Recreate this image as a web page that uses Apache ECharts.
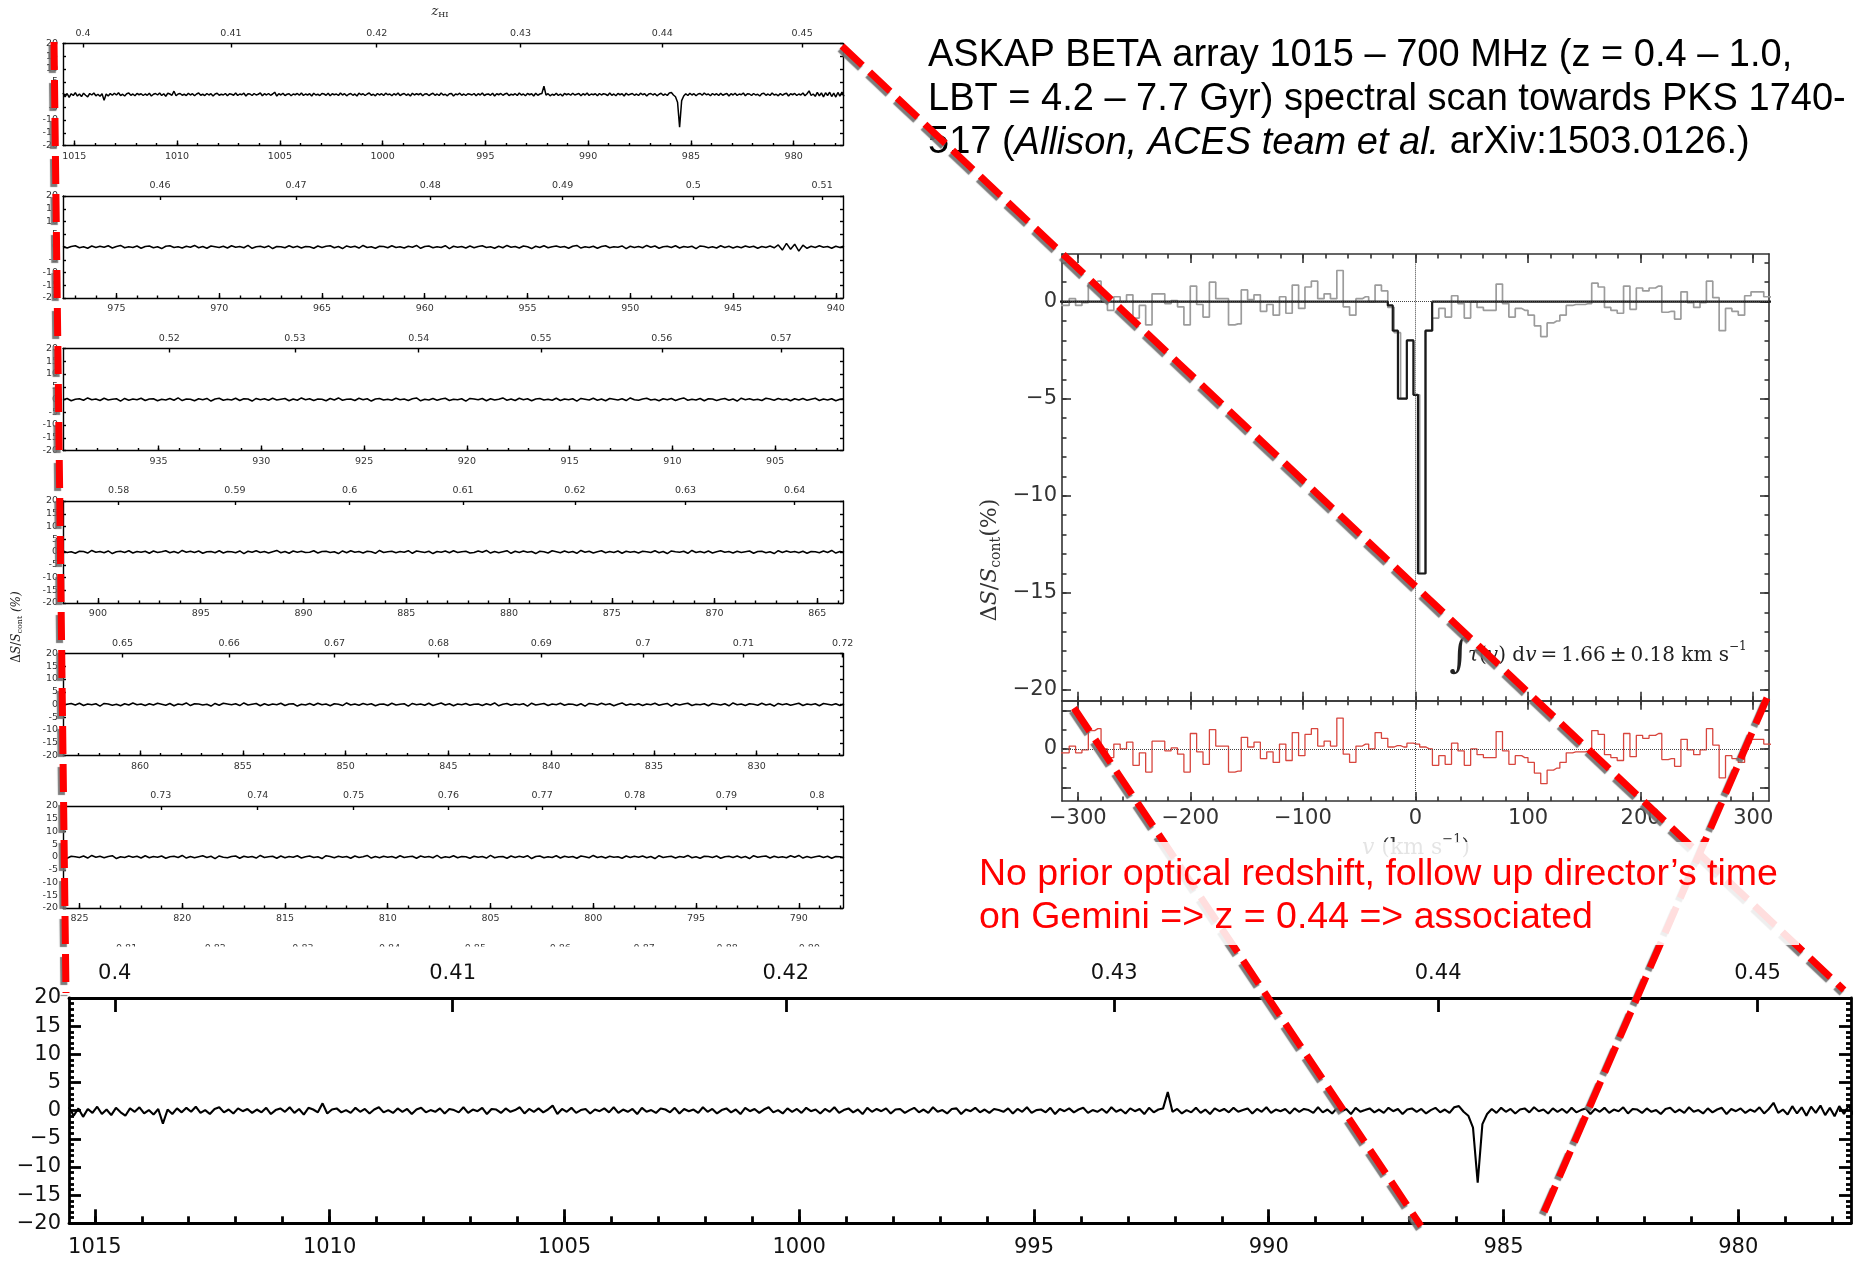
<!DOCTYPE html>
<html><head><meta charset="utf-8">
<script src="https://cdn.jsdelivr.net/npm/echarts@6/dist/echarts.min.js"></script>
<style>html,body{margin:0;padding:0;background:#fff}#c{width:1865px;height:1264px}</style>
</head><body><div id="c"></div>
<script>
// ---------------- DATA ----------------
const REST_FREQ_MHZ = 1420.405752;
const SCAN_START_MHZ = 1015.55;
const PANEL_SPAN_MHZ = 37.95;

// panel 1 / zoomed bottom panel spectrum (dS/S %, 0.1 MHz steps from 1015.55 MHz)
const spec1StepMHz = 0.1;
const spec1 = [
0.6,-0.9,0.4,-1.1,0.3,-0.4,0.7,-0.6,0.2,-0.8,0.5,-0.3,-0.9,0.4,-0.2,0.6,-0.5,0.1,-0.7,0.3,
-2.3,0.2,-0.6,0.4,-0.3,0.5,-0.2,0.7,-0.4,0.1,-0.6,0.3,0.6,-0.3,0.2,-0.5,0.4,-0.1,0.3,-0.4,
0.2,-0.3,0.5,-0.6,0.1,0.4,-0.2,0.6,-0.4,0.3,-0.7,0.5,0.2,-0.3,1.3,-0.5,0.2,0.4,-0.3,0.1,
-0.4,0.5,-0.2,0.3,-0.5,0.2,0.6,-0.3,0.1,-0.4,0.4,-0.2,0.3,-0.6,0.2,0.5,-0.3,0.1,-0.2,0.4,
-0.5,0.3,0.1,-0.3,0.6,-0.4,0.2,-0.1,0.5,-0.6,0.3,0.2,-0.4,0.4,-0.2,0.1,0.6,-0.5,0.3,-0.2,
0.4,-0.3,0.2,0.9,-0.6,0.3,-0.2,0.5,-0.4,0.1,0.3,-0.5,0.2,-0.1,0.4,-0.3,0.6,-0.4,0.2,-0.2,
0.3,-0.6,0.5,-0.2,0.1,-0.4,0.4,0.2,-0.3,0.5,-0.5,0.3,-0.1,0.2,-0.4,0.6,-0.2,0.3,-0.5,0.1,
0.4,-0.3,0.2,-0.6,0.5,-0.1,0.3,-0.4,0.2,0.6,-0.3,0.1,-0.5,0.4,-0.2,0.3,-0.4,0.5,-0.1,0.2,
-0.5,0.3,-0.2,0.6,-0.4,0.1,0.4,-0.3,0.2,-0.6,0.5,-0.2,0.3,-0.1,0.4,-0.5,0.2,0.3,-0.4,0.1,
0.5,-0.3,0.2,-0.4,0.6,-0.2,0.1,-0.5,0.3,0.4,-0.6,0.2,-0.1,0.5,-0.3,0.2,-0.4,0.3,0.1,-0.2,
0.4,-0.5,0.3,-0.2,0.6,-0.4,0.1,0.2,-0.3,0.5,-0.6,0.3,-0.1,0.4,-0.3,0.2,0.5,-0.4,0.1,-0.2,
0.3,-0.4,0.6,-0.2,0.2,-0.5,0.4,-0.1,0.3,-0.6,0.5,-0.3,0.2,0.4,3.3,-0.2,0.3,-0.5,0.1,-0.3,
0.5,-0.4,0.2,-0.6,0.4,-0.1,0.3,-0.3,0.5,-0.2,0.1,0.4,-0.5,0.3,-0.2,0.6,-0.4,0.2,-0.1,0.3,
-0.5,0.4,-0.2,0.3,0.1,-0.4,0.6,-0.3,0.2,-0.5,0.4,-0.1,0.3,-0.6,0.5,-0.2,0.1,0.4,-0.3,0.2,
-0.4,0.5,-0.1,0.3,-0.6,0.2,0.4,-0.2,0.3,-0.5,0.1,0.5,-0.3,0.2,-0.4,0.6,0.8,-0.2,-0.9,-3.0,
-12.8,-2.4,-0.6,0.3,-0.4,0.5,-0.2,0.3,-0.5,0.2,0.4,-0.3,0.6,-0.1,0.2,-0.5,0.4,-0.2,0.3,-0.4,
0.5,-0.3,0.1,0.4,-0.6,0.3,-0.2,0.5,-0.4,0.2,-0.1,0.6,-0.5,0.3,0.2,-0.4,0.4,-0.2,0.1,-0.6,
0.3,0.5,-0.3,0.2,-0.4,0.6,-0.2,0.1,-0.5,0.4,-0.3,0.2,0.5,-0.6,0.3,-0.1,0.4,-0.4,0.2,-0.2,
0.6,-0.5,0.3,1.4,-0.4,0.2,-0.7,0.8,-0.5,0.6,-0.9,0.7,-0.4,0.9,-0.8,0.5,-1.0,0.8,-0.6,0.9,
-0.7];

// panels 2-6 spectra (0.2 MHz steps from each panel's high-frequency edge)
const specStepMHz = 0.2;
const spec2 = [
0.3,-0.4,0.2,0.5,-0.3,0.1,-0.5,0.4,-0.2,0.3,-0.1,0.5,-0.4,0.2,0.6,-0.3,0.1,-0.2,0.4,-0.5,
0.2,0.4,-0.3,0.1,-0.6,0.3,0.5,-0.2,0.1,-0.4,0.3,-0.1,0.6,-0.3,0.2,-0.5,0.4,0.1,-0.2,0.3,
-0.4,0.5,-0.1,0.2,-0.3,0.6,-0.5,0.1,0.3,-0.2,0.4,-0.6,0.2,0.1,-0.3,0.5,-0.2,0.3,-0.4,0.2,
0.1,-0.5,0.4,-0.2,0.3,0.5,-0.3,0.2,-0.6,0.4,-0.1,0.3,-0.4,0.6,-0.2,0.1,-0.5,0.3,0.2,-0.3,
0.5,-0.2,0.1,-0.4,0.3,-0.1,0.6,-0.5,0.2,0.4,-0.3,0.1,-0.2,0.5,-0.6,0.3,-0.1,0.2,-0.4,0.4,
-0.3,0.2,0.5,-0.2,0.1,-0.5,0.3,-0.3,0.6,-0.1,0.2,-0.4,0.4,0.1,-0.6,0.3,-0.2,0.5,-0.3,0.1,
0.4,-0.1,0.2,-0.5,0.3,0.6,-0.4,0.1,-0.2,0.3,-0.5,0.2,0.5,-0.3,0.1,-0.1,0.4,-0.6,0.3,-0.2,
0.2,-0.3,0.6,-0.1,0.4,-0.5,0.1,0.3,-0.2,0.5,-0.4,0.2,-0.1,0.3,-0.6,0.4,0.2,-0.3,0.1,-0.4,
0.5,-0.2,0.3,-0.4,0.2,-0.3,0.4,-0.1,0.3,-0.5,0.2,-0.2,0.4,-0.3,0.8,-1.2,1.4,-0.9,1.1,-1.6,
0.7,-0.5,0.3,-0.2,0.5,-0.1,0.2,-0.5,0.3,-0.2,0.4];
const spec3 = [
-0.2,0.4,-0.5,0.1,0.3,-0.3,0.6,-0.1,0.2,-0.4,0.5,-0.2,0.1,0.3,-0.6,0.4,-0.3,0.2,-0.1,0.5,
-0.4,0.2,0.3,-0.5,0.1,-0.2,0.4,-0.3,0.6,-0.4,0.2,0.1,-0.5,0.3,-0.1,0.4,-0.6,0.2,0.5,-0.3,
0.1,-0.2,0.5,-0.4,0.3,0.2,-0.6,0.4,-0.1,0.3,-0.3,0.5,-0.2,0.1,0.4,-0.5,0.2,-0.3,0.6,-0.1,
0.3,-0.4,0.2,0.1,-0.5,0.4,-0.2,0.6,-0.3,0.1,0.2,-0.4,0.5,-0.1,0.3,-0.6,0.2,0.4,-0.2,0.1,
-0.3,0.5,-0.1,0.2,-0.4,0.3,0.6,-0.5,0.1,-0.2,0.4,-0.3,0.2,0.5,-0.4,0.1,-0.1,0.3,-0.6,0.4,
0.2,-0.1,0.4,-0.5,0.3,-0.2,0.1,0.6,-0.3,0.2,-0.4,0.5,-0.1,0.3,-0.5,0.2,0.4,-0.2,0.1,-0.3,
0.5,-0.4,0.2,-0.1,0.3,-0.6,0.4,0.1,-0.2,0.5,-0.3,0.2,-0.5,0.4,0.1,-0.2,0.3,-0.4,0.6,-0.1,
-0.3,0.2,0.5,-0.2,0.1,-0.5,0.3,-0.1,0.4,-0.4,0.2,0.6,-0.3,0.1,-0.2,0.4,-0.5,0.3,0.2,-0.4,
0.1,0.4,-0.3,0.2,-0.6,0.5,-0.1,0.3,-0.2,0.1,-0.4,0.5,0.2,-0.3,0.4,-0.1,0.2,-0.5,0.3,-0.2,
0.4,-0.3,0.1,0.5,-0.4,0.2,-0.2,0.3,-0.5,0.1,0.3];
const spec4 = [
0.4,-0.2,0.1,-0.5,0.3,0.2,-0.4,0.6,-0.1,0.2,-0.3,0.4,-0.6,0.1,0.3,-0.2,0.5,-0.4,0.2,-0.1,
0.3,-0.5,0.4,-0.2,0.1,0.5,-0.3,0.2,-0.4,0.6,-0.1,0.3,-0.2,0.4,-0.5,0.1,0.2,-0.3,0.5,-0.4,
0.2,0.1,-0.3,0.4,-0.6,0.3,-0.1,0.5,-0.2,0.2,-0.4,0.1,0.6,-0.3,0.2,-0.5,0.4,-0.1,0.3,-0.2,
-0.1,0.5,-0.4,0.2,0.3,-0.2,0.1,-0.6,0.4,-0.3,0.5,-0.1,0.2,-0.4,0.3,0.1,-0.5,0.6,-0.2,0.1,
0.3,-0.3,0.2,-0.1,0.5,-0.5,0.4,0.1,-0.2,0.3,-0.6,0.2,-0.1,0.4,-0.3,0.5,-0.2,0.1,0.3,-0.4,
-0.2,0.4,-0.1,0.6,-0.4,0.2,-0.3,0.1,0.5,-0.5,0.3,-0.2,0.4,-0.1,0.2,-0.6,0.3,0.1,-0.4,0.5,
0.1,-0.3,0.4,-0.2,0.2,-0.5,0.6,-0.1,0.3,-0.4,0.1,0.5,-0.3,0.2,-0.2,0.4,-0.5,0.3,-0.1,0.2,
-0.4,0.3,0.1,-0.2,0.5,-0.3,0.2,-0.6,0.4,0.1,-0.1,0.3,-0.5,0.6,-0.2,0.2,-0.3,0.4,-0.4,0.1,
0.5,-0.1,0.2,-0.4,0.3,-0.2,0.1,0.4,-0.5,0.2,0.3,-0.3,0.1,-0.6,0.5,-0.2,0.4,-0.1,0.2,-0.3,
0.3,-0.5,0.2,0.1,-0.3,0.4,-0.2,0.6,-0.4,0.2,-0.1];
const spec5 = [
-0.3,0.1,0.4,-0.2,0.5,-0.4,0.2,-0.1,0.3,-0.6,0.4,0.2,-0.3,0.1,-0.5,0.3,-0.2,0.6,-0.1,0.2,
-0.4,0.3,-0.2,0.5,0.1,-0.3,0.4,-0.5,0.2,-0.1,0.6,-0.4,0.3,0.2,-0.2,0.1,-0.6,0.4,-0.3,0.5,
0.2,-0.1,0.3,-0.4,0.6,-0.2,0.1,0.4,-0.5,0.3,-0.3,0.2,-0.1,0.5,-0.4,0.2,0.3,-0.6,0.1,-0.2,
0.4,-0.3,0.5,-0.1,0.2,-0.5,0.3,0.1,-0.4,0.6,-0.2,0.2,-0.3,0.4,-0.1,0.3,-0.5,0.1,0.2,-0.4,
0.5,-0.2,0.1,0.3,-0.6,0.4,-0.1,0.2,-0.3,0.5,-0.4,0.1,0.6,-0.2,0.3,-0.5,0.2,-0.1,0.4,-0.3,
0.1,0.2,-0.4,0.3,-0.2,0.6,-0.5,0.1,0.4,-0.3,0.2,-0.1,0.3,-0.6,0.5,-0.2,0.1,0.4,-0.4,0.2,
-0.1,0.5,-0.3,0.2,0.1,-0.4,0.3,-0.6,0.4,0.2,-0.2,0.5,-0.1,0.3,-0.5,0.1,0.6,-0.3,0.2,-0.2,
0.3,-0.4,0.2,-0.1,0.5,-0.3,0.1,0.4,-0.6,0.3,-0.2,0.2,0.5,-0.4,0.1,-0.1,0.3,-0.5,0.4,0.1,
-0.2,0.3,-0.5,0.6,-0.1,0.2,-0.4,0.3,0.1,-0.3,0.5,-0.2,0.2,-0.6,0.4,-0.1,0.3,-0.3,0.1,0.5,
-0.4,0.2,-0.1,0.3,-0.5,0.4,0.1,-0.2,0.3,-0.4,0.2];
const spec6 = [
0.2,-0.5,0.3,0.1,-0.2,0.4,-0.4,0.6,-0.1,0.3,-0.3,0.2,0.5,-0.6,0.1,-0.2,0.4,-0.1,0.3,-0.4,
0.5,-0.3,0.2,-0.1,0.4,-0.5,0.1,0.3,-0.2,0.6,-0.4,0.2,-0.3,0.1,0.5,-0.2,0.3,-0.6,0.4,-0.1,
-0.3,0.2,0.4,-0.5,0.3,-0.1,0.2,-0.4,0.6,-0.2,0.1,0.3,-0.5,0.4,-0.3,0.2,-0.1,0.5,-0.4,0.1,
0.4,-0.2,0.1,-0.6,0.5,0.2,-0.3,0.3,-0.1,0.2,-0.5,0.4,-0.2,0.1,0.6,-0.4,0.2,-0.3,0.3,-0.1,
0.2,-0.4,0.5,-0.2,0.1,0.3,-0.5,0.4,-0.1,0.2,-0.3,0.6,-0.4,0.1,-0.2,0.5,-0.3,0.2,0.1,-0.5,
0.3,-0.1,0.2,-0.4,0.6,-0.3,0.1,0.2,-0.5,0.4,-0.2,0.3,-0.1,0.5,-0.6,0.2,0.4,-0.3,0.1,-0.2,
0.5,-0.4,0.3,-0.1,0.2,-0.5,0.4,0.1,-0.3,0.6,-0.2,0.2,-0.4,0.3,-0.1,0.1,-0.5,0.4,-0.2,0.3,
-0.1,0.4,-0.3,0.2,-0.6,0.5,-0.2,0.1,0.3,-0.4,0.2,-0.1,0.6,-0.3,0.1,-0.5,0.3,0.2,-0.2,0.4,
-0.5,0.1,0.3,-0.2,0.4,-0.3,0.2,-0.6,0.5,-0.1,0.2,0.4,-0.4,0.3,-0.2,0.1,-0.3,0.5,-0.1,0.6,
-0.4,0.2,-0.3,0.1,0.4,-0.2,0.3,-0.5,0.2,0.1,-0.3];

// redshift tick labels of the top axes
const zTicks1 = [0.40,0.41,0.42,0.43,0.44,0.45];
const zTicks2 = [0.46,0.47,0.48,0.49,0.50,0.51];
const zTicks3 = [0.52,0.53,0.54,0.55,0.56,0.57];
const zTicks4 = [0.58,0.59,0.60,0.61,0.62,0.63,0.64];
const zTicks5 = [0.65,0.66,0.67,0.68,0.69,0.70,0.71,0.72];
const zTicks6 = [0.73,0.74,0.75,0.76,0.77,0.78,0.79,0.80];
const zTicks7 = [0.81,0.82,0.83,0.84,0.85,0.86,0.87,0.88,0.89];

// inset: velocity spectrum around the detection (channels, km/s)
const VEL_MIN = -314, VEL_MAX = 314;
const CHAN_CENTER0 = -316.09, CHAN_WIDTH = 5.66;
const velTicks = [-300,-200,-100,0,100,200,300];
const insetYTicks = [-20,-15,-10,-5,0];
const insetData = [
-0.2,-0.2,0.15,-0.2,-0.05,0.95,1.05,0.0,-0.45,0.25,
0.0,0.35,-0.85,-0.2,-1.2,0.4,0.4,-0.1,0.05,-0.27,
-1.2,0.8,-0.15,-0.8,1.0,0.15,0.15,-1.2,-1.15,0.6,
0.1,0.35,-0.5,-0.15,-0.7,0.25,-0.6,0.85,-0.35,0.75,
1.05,0.15,0.4,0.15,1.6,-0.27,-0.7,0.15,0.25,0.0,
0.85,0.55,-0.3,-1.6,-5.0,-2.0,-4.8,-14.0,-1.5,-0.85,
-0.35,-0.8,0.3,-0.1,-0.85,0.0,-0.3,-0.45,-0.45,0.9,
-0.1,-0.8,-0.35,-0.45,-0.7,-1.25,-1.8,-1.1,-1.0,-0.7,
-0.2,-0.15,-0.15,-0.1,0.95,0.75,-0.3,-0.45,-0.6,0.8,
-0.4,0.7,0.55,0.7,0.8,-0.55,-0.5,-0.9,0.5,-0.05,
-0.3,-0.05,1.05,0.2,-1.5,-0.35,-0.5,-0.7,0.3,0.5,
0.5,0.25,0.2];
const insetResidual = [
-0.2,-0.2,0.15,-0.2,-0.05,0.95,1.05,0.0,-0.45,0.25,
0.0,0.35,-0.85,-0.2,-1.2,0.4,0.4,-0.1,0.05,-0.27,
-1.2,0.8,-0.15,-0.8,1.0,0.15,0.15,-1.2,-1.15,0.6,
0.1,0.35,-0.5,-0.15,-0.7,0.25,-0.6,0.85,-0.35,0.75,
1.05,0.15,0.4,0.15,1.6,-0.27,-0.7,0.15,0.25,0.0,
0.85,0.55,0.1,0.17,0.1,0.3,0.25,0.1,0.0,-0.85,
-0.35,-0.8,0.3,-0.1,-0.85,0.0,-0.3,-0.45,-0.45,0.9,
-0.1,-0.8,-0.35,-0.45,-0.7,-1.25,-1.8,-1.1,-1.0,-0.7,
-0.2,-0.15,-0.15,-0.1,0.95,0.75,-0.3,-0.45,-0.6,0.8,
-0.4,0.7,0.55,0.7,0.8,-0.55,-0.5,-0.9,0.5,-0.05,
-0.3,-0.05,1.05,0.2,-1.5,-0.35,-0.5,-0.7,0.3,0.5,
0.5,0.25,0.2];
// best-fit model (value holds from each velocity to the next)
const modelVel = [-320,-24.6,-20.2,-15.6,-7.7,-1.8,2.2,8.8,14.8,320];
const modelVal = [0,-0.2,-1.5,-5.0,-2.0,-4.8,-14.0,-1.5,0,0];

// ---------------- BUILD ----------------
const option = {animation:false, backgroundColor:'#fff', grid:[], xAxis:[], yAxis:[], series:[]};
const gfx = [];

function multiplesIn(lo, hi, step){
  const out = [];
  for (let v = Math.ceil(lo/step - 1e-9)*step; v <= hi + 1e-9; v += step) out.push(+v.toFixed(6));
  return out;
}
const fmtMinus = v => String(v).replace('-', '\u2212');
function specPairs(arr, f0, step){ return arr.map((v,i)=>[+(f0 - i*step).toFixed(4), v]); }

function addSpectrumPanel(c){
  const g = option.grid.length;
  option.grid.push({left:c.left, top:c.top, width:c.width, height:c.height, show:false});
  const ls = {color:'#000', width:c.box};
  const font = {fontFamily:'DejaVu Sans', fontSize:c.fs, color:c.fc};
  const major = multiplesIn(c.fmin, c.fmax, 5);
  const minor = multiplesIn(c.fmin, c.fmax, 1);
  const zf = c.zt.map(z => REST_FREQ_MHZ/(1+z));
  const show = !c.labelsOnly;
  const base = {gridIndex:g, type:'value', inverse:true, min:c.fmin, max:c.fmax, splitLine:{show:false}};
  const xMain = option.xAxis.length;
  option.xAxis.push(Object.assign({}, base, {position:'bottom',
    axisLine:{show:show, onZero:false, lineStyle:ls},
    axisTick:{show:show, inside:true, length:c.tMaj, customValues:major, lineStyle:ls},
    axisLabel:{show:show, customValues:major, margin:c.mB, ...font, formatter:v=>String(Math.round(v))}}));
  option.xAxis.push(Object.assign({}, base, {position:'bottom',
    axisLine:{show:false, onZero:false},
    axisTick:{show:show, inside:true, length:c.tMin, customValues:minor, lineStyle:ls},
    axisLabel:{show:false}}));
  option.xAxis.push(Object.assign({}, base, {position:'top',
    axisLine:{show:show, onZero:false, lineStyle:ls},
    axisTick:{show:show, inside:true, length:c.tTop, customValues:zf, lineStyle:ls},
    axisLabel:{show:true, customValues:zf, margin:c.mT, ...font, formatter:v=>String(+(REST_FREQ_MHZ/v-1).toFixed(2))}}));
  const yMain = option.yAxis.length;
  const ybase = {gridIndex:g, type:'value', min:-20, max:20, interval:5, splitLine:{show:false}};
  option.yAxis.push(Object.assign({}, ybase, {position:'left',
    axisLine:{show:show, onZero:false, lineStyle:ls},
    axisTick:{show:show, inside:true, length:c.yMaj, lineStyle:ls},
    minorTick:{show:show && c.yMinor, splitNumber:5, length:c.yMin, lineStyle:ls},
    axisLabel:{show:show, margin:c.mY, ...font, formatter:c.yFmt}}));
  option.yAxis.push(Object.assign({}, ybase, {position:'right',
    axisLine:{show:show, onZero:false, lineStyle:ls},
    axisTick:{show:show, inside:true, length:c.yMaj, lineStyle:ls},
    minorTick:{show:show && c.yMinor, splitNumber:5, length:c.yMin, lineStyle:ls},
    axisLabel:{show:false}}));
  if (c.data) option.series.push({type:'line', xAxisIndex:xMain, yAxisIndex:yMain, data:c.data,
    showSymbol:false, symbol:'none', silent:true, z:3, lineStyle:{color:'#000', width:c.lw}});
}

// small panels
const smallSpecs = [
  {data:specPairs(spec1, SCAN_START_MHZ, spec1StepMHz), zt:zTicks1},
  {data:null, zt:zTicks2, arr:spec2},
  {data:null, zt:zTicks3, arr:spec3},
  {data:null, zt:zTicks4, arr:spec4},
  {data:null, zt:zTicks5, arr:spec5},
  {data:null, zt:zTicks6, arr:spec6},
  {data:null, zt:zTicks7, arr:null, labelsOnly:true}
];
smallSpecs.forEach((s, i) => {
  const fmax = SCAN_START_MHZ - PANEL_SPAN_MHZ*i;
  const fmin = fmax - PANEL_SPAN_MHZ;
  const data = s.data || (s.arr ? specPairs(s.arr, fmax, specStepMHz) : null);
  addSpectrumPanel({left:63, top:43.5 + 152.5*i, width:780, height:102, fmin, fmax, zt:s.zt, data,
    labelsOnly:!!s.labelsOnly, fs:9.5, fc:'#333', box:1.4, lw:1.5, tMaj:5, tMin:2.5, tTop:4,
    yMaj:3, yMin:1.5, yMinor:false, mB:6, mT:5, mY:5, yFmt:v=>String(v)});
});

// bottom zoomed panel
addSpectrumPanel({left:69, top:998, width:1782, height:225.3, fmin:SCAN_START_MHZ-PANEL_SPAN_MHZ, fmax:SCAN_START_MHZ,
  zt:zTicks1, data:specPairs(spec1, SCAN_START_MHZ, spec1StepMHz), fs:21, fc:'#111', box:2.8, lw:2.1,
  tMaj:14, tMin:7, tTop:14, yMaj:12, yMin:5, yMinor:true, mB:14, mT:14, mY:8, yFmt:fmtMinus});

// inset panels
function insetAxes(g, yMin, yMax, yMajor, yMinorVals, yLabelVals, xLabels){
  const ls = {color:'#333', width:1.6};
  const font = {fontFamily:'DejaVu Sans', fontSize:21, color:'#333'};
  const velMinor = multiplesIn(VEL_MIN, VEL_MAX, 20);
  const xb = {gridIndex:g, type:'value', min:VEL_MIN, max:VEL_MAX, splitLine:{show:false}};
  const xi = option.xAxis.length;
  option.xAxis.push({...xb, position:'bottom', axisLine:{onZero:false, lineStyle:ls},
    axisTick:{inside:true, length:9, customValues:velTicks, lineStyle:ls},
    axisLabel:{show:xLabels, customValues:velTicks, margin:7, ...font, formatter:fmtMinus}});
  option.xAxis.push({...xb, position:'bottom', axisLine:{show:false, onZero:false},
    axisTick:{inside:true, length:4.5, customValues:velMinor, lineStyle:ls}, axisLabel:{show:false}});
  option.xAxis.push({...xb, position:'top', axisLine:{onZero:false, lineStyle:ls},
    axisTick:{inside:true, length:9, customValues:velTicks, lineStyle:ls}, axisLabel:{show:false}});
  option.xAxis.push({...xb, position:'top', axisLine:{show:false, onZero:false},
    axisTick:{inside:true, length:4.5, customValues:velMinor, lineStyle:ls}, axisLabel:{show:false}});
  const yb = {gridIndex:g, type:'value', min:yMin, max:yMax, splitLine:{show:false}};
  const yi = option.yAxis.length;
  option.yAxis.push({...yb, position:'left', axisLine:{onZero:false, lineStyle:ls},
    axisTick:{inside:true, length:9, customValues:yMajor, lineStyle:ls},
    axisLabel:{customValues:yLabelVals, margin:5, ...font, formatter:fmtMinus}});
  option.yAxis.push({...yb, position:'left', axisLine:{show:false, onZero:false},
    axisTick:{inside:true, length:4.5, customValues:yMinorVals, lineStyle:ls}, axisLabel:{show:false}});
  option.yAxis.push({...yb, position:'right', axisLine:{onZero:false, lineStyle:ls},
    axisTick:{inside:true, length:9, customValues:yMajor, lineStyle:ls}, axisLabel:{show:false}});
  option.yAxis.push({...yb, position:'right', axisLine:{show:false, onZero:false},
    axisTick:{inside:true, length:4.5, customValues:yMinorVals, lineStyle:ls}, axisLabel:{show:false}});
  return {xi, yi};
}
const gU = option.grid.length; option.grid.push({left:1062, top:254, width:707, height:446.7, show:false});
const gL = option.grid.length; option.grid.push({left:1062, top:700.7, width:707, height:100.3, show:false});
const U = insetAxes(gU, -20.55, 2.45, insetYTicks, multiplesIn(-20.55, 2.45, 1), insetYTicks, false);
const L = insetAxes(gL, -2.7, 2.5, [-2,0,2], [-2,-1,0,1,2], [0], true);

const velCenters = insetData.map((_, i) => +(CHAN_CENTER0 + i*CHAN_WIDTH).toFixed(2));
const zeroLines = {silent:true, symbol:['none','none'], label:{show:false}, animation:false,
  lineStyle:{type:'dotted', color:'#444', width:1}, data:[{xAxis:0},{yAxis:0}]};
option.series.push({type:'line', xAxisIndex:U.xi, yAxisIndex:U.yi, step:'middle', symbol:'none', showSymbol:false,
  data:velCenters.map((v,i)=>[v, insetData[i]]), lineStyle:{color:'#9c9c9c', width:1.7}, z:2, markLine:zeroLines});
option.series.push({type:'line', xAxisIndex:U.xi, yAxisIndex:U.yi, step:'end', symbol:'none', showSymbol:false,
  data:modelVel.map((v,i)=>[v, modelVal[i]]), lineStyle:{color:'#1a1a1a', width:2.2}, z:3});
option.series.push({type:'line', xAxisIndex:L.xi, yAxisIndex:L.yi, step:'middle', symbol:'none', showSymbol:false,
  data:velCenters.map((v,i)=>[v, insetResidual[i]]), lineStyle:{color:'#d8453d', width:1.3}, z:2, markLine:zeroLines});

// ---------------- TEXT / ANNOTATIONS ----------------
const mctx = document.createElement('canvas').getContext('2d');
function tw(t, font){ mctx.font = font; return mctx.measureText(t).width; }
function composite(parts, cx, cy, rot, color, anchor, z){
  const fonts = parts.map(p => (p.it ? 'italic ' : '') + p.size + 'px ' + p.fam);
  const ws = parts.map((p,i) => tw(p.t, fonts[i]));
  const total = ws.reduce((a,b)=>a+b, 0);
  let x = anchor === 'left' ? 0 : -total/2;
  const children = parts.map((p,i) => {
    const el = {type:'text', x:x, y:p.dy||0, z:z, silent:true,
      style:{text:p.t, font:fonts[i], fill:p.color||color, align:'left', verticalAlign:'middle'}};
    x += ws[i];
    return el;
  });
  return {type:'group', x:cx, y:cy, rotation:rot||0, children, z:z, silent:true};
}
const SERIF = '"DejaVu Serif"';
// z_HI
gfx.push(composite([{t:'z', it:true, size:13, fam:SERIF},{t:'HI', size:8, fam:SERIF, dy:3}], 440, 12, 0, '#222', 'center', 5));
// small-panel y label
gfx.push(composite([{t:'\u0394', size:12, fam:SERIF},{t:'S', it:true, size:12, fam:SERIF},{t:'/', size:12, fam:SERIF},
  {t:'S', it:true, size:12, fam:SERIF},{t:'cont', size:8, fam:SERIF, dy:3},{t:' (%)', it:true, size:12, fam:SERIF}], 17, 627, Math.PI/2, '#222', 'center', 5));
// inset y label
gfx.push(composite([{t:'\u0394', size:22, fam:SERIF},{t:'S', it:true, size:22, fam:SERIF},{t:'/', size:22, fam:SERIF},
  {t:'S', it:true, size:22, fam:SERIF},{t:'cont', size:14, fam:SERIF, dy:6},{t:'(%)', size:22, fam:SERIF}], 990, 560, Math.PI/2, '#333', 'center', 5));
// inset x label
gfx.push(composite([{t:'v', it:true, size:22, fam:SERIF},{t:' (km s', size:22, fam:SERIF},{t:'\u22121', size:13, fam:SERIF, dy:-8},
  {t:')', size:22, fam:SERIF}], 1416, 848, 0, '#333', 'center', 5));
// integrated optical depth annotation
gfx.push({type:'text', x:1460, y:657, z:5, silent:true, style:{text:'\u222B', font:'40px ' + SERIF, fill:'#222', align:'center', verticalAlign:'middle'}});
gfx.push(composite([{t:'\u03C4', it:true, size:20, fam:SERIF},{t:'(', size:20, fam:SERIF},{t:'v', it:true, size:20, fam:SERIF},
  {t:') d', size:20, fam:SERIF},{t:'v', it:true, size:20, fam:SERIF},{t:'\u2009=\u20091.66\u2009\u00B1\u20090.18 km s', size:20, fam:SERIF},
  {t:'\u22121', size:12, fam:SERIF, dy:-9}], 1468, 656, 0, '#222', 'left', 5));

// cut-off row of the next panel
gfx.push({type:'rect', z:50, silent:true, shape:{x:40, y:946.5, width:830, height:17}, style:{fill:'#fff'}});

// title (behind the dashed connector)
const SANS = '"Liberation Sans"';
gfx.push({type:'text', x:928, y:56, z:90, silent:true, style:{text:'ASKAP BETA array 1015 \u2013 700 MHz (z = 0.4 \u2013 1.0,', font:'38px ' + SANS, fill:'#000', align:'left', verticalAlign:'middle'}});
gfx.push({type:'text', x:928, y:100, z:90, silent:true, style:{text:'LBT = 4.2 \u2013 7.7 Gyr) spectral scan towards PKS 1740-', font:'38px ' + SANS, fill:'#000', align:'left', verticalAlign:'middle'}});
gfx.push(composite([{t:'517 (', size:38, fam:SANS},{t:'Allison, ACES team et al.', it:true, size:38, fam:SANS},{t:' arXiv:1503.0126.)', size:38, fam:SANS}], 928, 143, 0, '#000', 'left', 90));

// red dashed connectors
const dash = {stroke:'#ff0000', lineWidth:7, lineDash:[28,10], lineCap:'butt', shadowColor:'rgba(110,110,110,0.9)', shadowBlur:1, shadowOffsetX:-2, shadowOffsetY:3};
[[54,42,66,993],[842,46,1844,990],[1074,708,1421,1226],[1767,698,1541,1219]].forEach(s => {
  gfx.push({type:'line', z:100, silent:true, shape:{x1:s[0], y1:s[1], x2:s[2], y2:s[3]}, style:dash});
});
// translucent box behind the red caption
gfx.push({type:'rect', z:110, silent:true, shape:{x:969, y:842, width:830, height:103}, style:{fill:'rgba(255,255,255,0.87)'}});
gfx.push({type:'text', x:979, y:875, z:120, silent:true, style:{text:'No prior optical redshift, follow up director\u2019s time', font:'37.5px ' + SANS, fill:'#ff0000', align:'left', verticalAlign:'middle'}});
gfx.push({type:'text', x:979, y:918, z:120, silent:true, style:{text:'on Gemini => z = 0.44 => associated', font:'37.5px ' + SANS, fill:'#ff0000', align:'left', verticalAlign:'middle'}});

option.graphic = {elements: gfx};

const chart = echarts.init(document.getElementById('c'), null, {renderer:'canvas', width:1865, height:1264});
chart.setOption(option);
</script>
</body></html>
